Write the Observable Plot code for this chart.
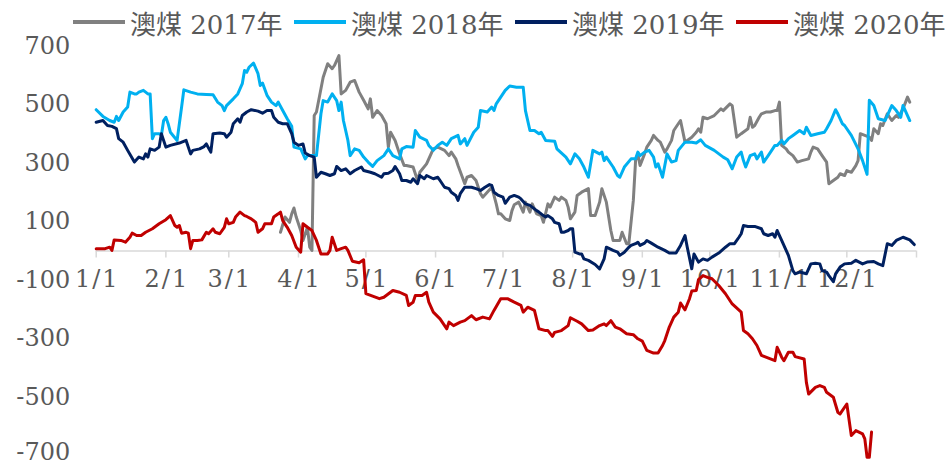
<!DOCTYPE html>
<html>
<head>
<meta charset="utf-8">
<script src="https://cdn.jsdelivr.net/npm/d3@7"></script>
<script src="https://cdn.jsdelivr.net/npm/@observablehq/plot@0.6"></script>
<style>
  html, body { margin: 0; padding: 0; background: #fff; }
  #legend { height: 40px; box-sizing: border-box; padding-top: 4px; padding-left: 73px;
    display: flex; align-items: center; font-family: "DejaVu Serif", "Noto Sans CJK SC", serif;
    font-size: 26px; color: #595959; white-space: nowrap; }
  .item { display: flex; align-items: center; flex: none; width: 221px; }
  .sw { width: 52px; height: 4px; margin-right: 5px; flex: none; }
  g[aria-label="text"] text { letter-spacing: 2px; }
</style>
</head>
<body>
<div id="legend"></div>
<div id="chart"></div>
<script>
const seriesNames = ["澳煤 2017年", "澳煤 2018年", "澳煤 2019年", "澳煤 2020年"];
const seriesColors = ["#808080", "#00b0f0", "#002060", "#c00000"];
const monthTicks = ["1/1","2/1","3/1","4/1","5/1","6/1","7/1","8/1","9/1","10/1","11/1","12/1"];
const yTicks = [-700, -500, -300, -100, 100, 300, 500, 700];

const coal2017 = [["3/24",64],["3/26",116],["3/28",98],["3/29",127],["3/30",147],["3/31",116],["4/2",70],["4/3",36],["4/5",81],["4/6",13],["4/7",2],["4/8",463],["4/9",475],["4/12",594],["4/14",640],["4/16",623],["4/17",634],["4/19",668],["4/20",537],["4/22",549],["4/24",577],["4/26",583],["4/28",543],["4/30",515],["5/2",486],["5/3",520],["5/4",457],["5/6",480],["5/8",463],["5/10",435],["5/11",355],["5/12",406],["5/14",378],["5/16",332],["5/18",292],["5/19",292],["5/22",287],["5/24",241],["5/25",269],["5/28",298],["5/30",332],["5/31",349],["6/2",355],["6/5",344],["6/7",326],["6/8",338],["6/10",315],["6/11",292],["6/14",230],["6/15",252],["6/17",258],["6/19",241],["6/21",196],["6/22",184],["6/24",201],["6/26",218],["6/28",161],["6/29",127],["6/30",127],["7/2",110],["7/4",104],["7/5",138],["7/6",158],["7/8",167],["7/10",133],["7/11",167],["7/13",133],["7/14",161],["7/16",127],["7/18",121],["7/19",98],["7/21",161],["7/22",150],["7/24",184],["7/26",173],["7/27",184],["7/29",173],["7/30",150],["7/31",110],["8/2",133],["8/3",190],["8/5",201],["8/8",213],["8/9",121],["8/11",121],["8/13",167],["8/14",213],["8/16",167],["8/18",70],["8/19",36],["8/22",36],["8/23",64],["8/25",25],["8/26",25],["8/28",173],["8/29",309],["8/30",332],["8/31",292],["9/2",332],["9/3",355],["9/5",378],["9/6",395],["9/8",378],["9/9",372],["9/11",338],["9/12",349],["9/14",378],["9/15",412],["9/17",435],["9/18",446],["9/20",372],["9/21",378],["9/23",389],["9/25",406],["9/26",418],["9/27",406],["9/28",457],["9/30",452],["10/3",463],["10/6",486],["10/7",480],["10/10",503],["10/11",497],["10/13",389],["10/15",401],["10/18",418],["10/19",457],["10/20",423],["10/21",429],["10/23",457],["10/24",469],["10/26",475],["10/28",475],["10/30",480],["10/31",480],["11/1",509],["11/2",361],["11/4",349],["11/5",338],["11/7",326],["11/9",304],["11/11",309],["11/14",315],["11/15",338],["11/16",355],["11/18",349],["11/20",326],["11/22",304],["11/23",230],["11/25",241],["11/27",252],["11/28",264],["11/30",258],["12/1",275],["12/3",269],["12/5",292],["12/6",309],["12/7",401],["12/9",395],["12/11",389],["12/12",378],["12/13",418],["12/15",401],["12/16",435],["12/17",429],["12/19",469],["12/21",446],["12/23",463],["12/24",457],["12/26",486],["12/28",526],["12/29",509]];

const coal2018 = [["1/1",483],["1/4",460],["1/7",446],["1/9",440],["1/10",460],["1/11",446],["1/13",475],["1/15",492],["1/16",543],["1/18",537],["1/19",537],["1/20",543],["1/22",549],["1/24",537],["1/25",537],["1/26",384],["1/27",401],["1/29",401],["1/30",395],["1/31",446],["2/1",457],["2/2",435],["2/3",406],["2/5",387],["2/6",378],["2/8",492],["2/9",551],["2/12",543],["2/15",537],["2/19",535],["2/22",534],["2/24",509],["2/26",497],["2/27",480],["2/28",497],["3/3",520],["3/5",537],["3/7",572],["3/8",617],["3/9",611],["3/10",628],["3/12",642],["3/14",606],["3/15",566],["3/16",574],["3/18",532],["3/20",509],["3/22",497],["3/23",509],["3/25",480],["3/27",452],["3/29",426],["3/30",355],["4/2",349],["4/4",315],["4/5",326],["4/7",326],["4/9",326],["4/11",469],["4/12",514],["4/14",509],["4/16",537],["4/18",514],["4/19",480],["4/20",509],["4/21",446],["4/23",378],["4/24",326],["4/26",349],["4/28",344],["4/30",321],["5/2",304],["5/4",289],["5/6",309],["5/9",326],["5/11",349],["5/13",326],["5/16",315],["5/17",349],["5/19",357],["5/22",355],["5/23",412],["5/25",389],["5/28",378],["5/29",361],["5/31",344],["6/2",361],["6/4",372],["6/6",361],["6/8",384],["6/11",395],["6/12",366],["6/14",384],["6/15",361],["6/18",406],["6/20",423],["6/21",480],["6/24",475],["6/26",492],["6/27",480],["6/28",503],["6/30",526],["7/2",549],["7/4",564],["7/7",560],["7/10",560],["7/11",480],["7/13",412],["7/15",412],["7/17",401],["7/18",406],["7/20",378],["7/24",375],["7/25",349],["7/29",321],["7/31",298],["8/2",332],["8/4",315],["8/6",287],["8/8",252],["8/10",344],["8/13",332],["8/14",338],["8/15",309],["8/16",321],["8/19",287],["8/21",258],["8/22",252],["8/24",287],["8/27",315],["8/29",315],["8/30",338],["8/31",326],["9/2",338],["9/4",344],["9/6",321],["9/7",287],["9/8",298],["9/10",252],["9/11",292],["9/12",332],["9/14",304],["9/16",309],["9/17",344],["9/20",372],["9/23",372],["9/25",369],["9/27",380],["9/29",361],["10/3",344],["10/7",321],["10/9",312],["10/11",281],["10/13",321],["10/15",338],["10/16",309],["10/17",287],["10/19",326],["10/21",332],["10/22",315],["10/24",338],["10/25",304],["10/27",326],["10/29",349],["10/30",361],["10/31",361],["11/2",378],["11/3",366],["11/5",384],["11/7",395],["11/10",412],["11/12",401],["11/13",423],["11/15",395],["11/18",401],["11/21",406],["11/22",418],["11/24",446],["11/26",483],["11/27",469],["11/29",435],["11/30",429],["12/3",395],["12/6",349],["12/8",309],["12/10",262],["12/11",515],["12/13",497],["12/15",452],["12/18",446],["12/21",497],["12/23",480],["12/25",457],["12/26",497],["12/29",446]];

const coal2019 = [["1/1",440],["1/4",446],["1/6",429],["1/8",426],["1/10",418],["1/11",384],["1/13",372],["1/15",344],["1/18",304],["1/20",321],["1/22",315],["1/23",332],["1/24",321],["1/25",349],["1/27",344],["1/29",355],["1/30",401],["2/1",355],["2/3",361],["2/7",369],["2/10",378],["2/12",332],["2/13",344],["2/16",349],["2/18",357],["2/19",366],["2/21",338],["2/22",401],["2/25",403],["2/27",401],["2/28",389],["3/2",406],["3/3",435],["3/5",452],["3/6",440],["3/7",463],["3/9",475],["3/11",483],["3/14",478],["3/16",471],["3/18",480],["3/20",480],["3/21",457],["3/23",440],["3/25",435],["3/27",435],["3/29",401],["3/30",372],["4/1",361],["4/3",366],["4/4",335],["4/6",326],["4/8",321],["4/9",252],["4/11",269],["4/13",264],["4/15",258],["4/17",264],["4/18",289],["4/20",275],["4/22",281],["4/24",264],["4/26",275],["4/29",287],["4/30",275],["5/3",269],["5/5",264],["5/8",252],["5/9",264],["5/11",266],["5/13",275],["5/14",289],["5/16",264],["5/17",241],["5/19",241],["5/21",235],["5/22",247],["5/24",230],["5/25",258],["5/27",247],["5/28",258],["5/31",247],["6/2",252],["6/3",241],["6/5",218],["6/7",213],["6/8",201],["6/10",190],["6/11",173],["6/12",196],["6/14",218],["6/17",218],["6/19",213],["6/21",207],["6/23",218],["6/25",227],["6/26",224],["6/27",201],["6/29",190],["7/1",184],["7/2",163],["7/4",184],["7/6",190],["7/8",184],["7/9",178],["7/11",161],["7/13",156],["7/14",150],["7/16",138],["7/17",133],["7/19",121],["7/20",116],["7/21",121],["7/23",110],["7/24",98],["7/26",93],["7/27",64],["7/28",64],["7/30",70],["7/31",76],["8/1",76],["8/2",-4],["8/4",-10],["8/5",-10],["8/6",-27],["8/8",-32],["8/11",-46],["8/13",-61],["8/14",-44],["8/15",-27],["8/16",13],["8/19",2],["8/21",-4],["8/22",-15],["8/24",-4],["8/26",13],["8/27",19],["8/29",25],["8/30",30],["8/31",19],["9/2",27],["9/3",36],["9/5",27],["9/8",13],["9/11",2],["9/13",-7],["9/16",-7],["9/18",19],["9/20",53],["9/21",13],["9/23",-61],["9/24",-10],["9/26",-38],["9/28",-27],["9/30",-32],["10/2",-21],["10/5",-7],["10/8",13],["10/10",25],["10/12",25],["10/14",47],["10/15",59],["10/16",87],["10/18",84],["10/21",84],["10/24",76],["10/25",59],["10/27",53],["10/29",59],["10/30",47],["10/31",70],["11/2",36],["11/5",-15],["11/7",-67],["11/8",-78],["11/10",-72],["11/13",-78],["11/15",-44],["11/17",-42],["11/19",-44],["11/20",-67],["11/22",-72],["11/23",-84],["11/25",-105],["11/26",-78],["11/28",-55],["11/30",-44],["12/3",-42],["12/5",-32],["12/8",-44],["12/10",-38],["12/13",-36],["12/15",-44],["12/17",-50],["12/19",25],["12/21",19],["12/23",36],["12/26",47],["12/29",38],["12/31",22]];

const coal2020 = [["1/1",8],["1/5",8],["1/7",13],["1/8",2],["1/9",38],["1/12",36],["1/14",30],["1/16",47],["1/17",61],["1/19",53],["1/21",53],["1/23",64],["1/26",76],["1/29",93],["2/1",107],["2/3",121],["2/5",87],["2/6",81],["2/7",87],["2/8",61],["2/10",64],["2/11",61],["2/12",8],["2/13",36],["2/15",36],["2/17",38],["2/19",64],["2/20",59],["2/22",76],["2/23",64],["2/25",59],["2/27",81],["2/28",110],["3/1",93],["3/3",98],["3/4",116],["3/6",133],["3/8",121],["3/9",118],["3/11",110],["3/13",98],["3/14",64],["3/16",76],["3/17",93],["3/20",93],["3/21",116],["3/23",127],["3/24",133],["3/25",104],["3/27",81],["3/29",53],["3/31",13],["4/2",-4],["4/3",93],["4/5",81],["4/7",70],["4/9",36],["4/11",-10],["4/14",-10],["4/15",2],["4/16",47],["4/18",2],["4/20",8],["4/22",13],["4/23",2],["4/25",-35],["4/28",-40],["4/30",-30],["5/1",-146],["5/7",-163],["5/9",-158],["5/13",-135],["5/16",-141],["5/19",-152],["5/20",-186],["5/22",-175],["5/23",-152],["5/26",-152],["5/28",-141],["5/29",-175],["5/31",-209],["6/3",-232],["6/6",-266],["6/7",-243],["6/9",-255],["6/12",-243],["6/14",-238],["6/17",-221],["6/19",-235],["6/22",-226],["6/25",-232],["6/27",-203],["6/30",-163],["7/3",-163],["7/6",-175],["7/9",-186],["7/10",-209],["7/12",-192],["7/15",-203],["7/17",-266],["7/20",-272],["7/21",-272],["7/23",-292],["7/24",-278],["7/27",-272],["7/30",-255],["7/31",-228],["8/3",-240],["8/5",-249],["8/8",-272],["8/10",-270],["8/13",-255],["8/15",-249],["8/16",-255],["8/18",-238],["8/20",-260],["8/22",-266],["8/25",-283],["8/28",-286],["8/30",-300],["9/1",-308],["9/3",-340],["9/6",-349],["9/8",-349],["9/10",-323],["9/11",-306],["9/13",-260],["9/15",-226],["9/17",-209],["9/18",-178],["9/20",-201],["9/22",-163],["9/23",-137],["9/25",-135],["9/26",-98],["9/28",-84],["9/30",-90],["10/2",-95],["10/5",-118],["10/8",-146],["10/11",-181],["10/15",-209],["10/16",-272],["10/18",-283],["10/20",-300],["10/22",-323],["10/24",-357],["10/26",-363],["10/28",-369],["10/30",-375],["10/31",-329],["11/1",-346],["11/2",-363],["11/3",-375],["11/5",-346],["11/7",-346],["11/8",-361],["11/12",-369],["11/13",-449],["11/14",-489],["11/17",-466],["11/19",-460],["11/21",-466],["11/22",-483],["11/25",-500],["11/27",-551],["11/28",-557],["12/1",-523],["12/3",-631],["12/5",-614],["12/8",-625],["12/9",-642],["12/10",-705],["12/11",-705],["12/12",-619]];

const seriesData = [coal2017, coal2018, coal2019, coal2020];

const parseMD = s => { const [m, d] = s.split("/").map(Number); return new Date(Date.UTC(2019, m - 1, d)); };

const rows = seriesData.flatMap((arr, i) => arr.map(([md, v]) => ({date: parseMD(md), value: v, series: seriesNames[i]})));
const tickDates = monthTicks.map(parseMD);
const tickMarks = [...tickDates, new Date(Date.UTC(2020, 0, 1))];
const yMin = d3.min(yTicks);

// legend
const legend = document.getElementById("legend");
seriesNames.forEach((name, i) => {
  const item = document.createElement("div");
  item.className = "item";
  item.innerHTML = `<span class="sw" style="background:${seriesColors[i]}"></span><span>${name}</span>`;
  legend.appendChild(item);
});

const chart = Plot.plot({
  width: 951,
  height: 426,
  marginTop: 5.7,
  marginBottom: 10.7,
  marginLeft: 95.7,
  marginRight: 35,
  style: {fontFamily: "'DejaVu Serif', serif", fontSize: "24px", color: "#595959", background: "#fff", overflow: "visible"},
  x: {type: "utc", domain: [new Date(Date.UTC(2019, 0, 1)), new Date(Date.UTC(2020, 0, 1))], axis: null},
  y: {domain: [-700, 700], axis: null},
  color: {domain: seriesNames, range: seriesColors},
  marks: [
    Plot.axisY(yTicks.filter(t => t !== yMin), {tickSize: 0, tickPadding: 26, fontSize: 24, fill: "#595959", label: null, tickFormat: d => String(d)}),
    Plot.axisY([yMin], {tickSize: 0, tickPadding: 26, fontSize: 24, fill: "#595959", label: null, dy: -3, tickFormat: d => String(d)}),
    Plot.ruleY([0], {stroke: "#d9d9d9", strokeWidth: 1.5}),
    Plot.ruleX(tickMarks, {x: d => d, y1: 0, y2: -24, stroke: "#d9d9d9", strokeWidth: 1.5}),
    Plot.text(tickDates, {x: d => d, y: 0, dy: 28, dx: 1, text: (d, i) => monthTicks[i], fill: "#595959", fontSize: 24}),
    Plot.line(rows, {x: "date", y: "value", z: "series", stroke: "series", strokeWidth: 3, strokeLinejoin: "round"})
  ]
});
document.getElementById("chart").appendChild(chart);
</script>
</body>
</html>
